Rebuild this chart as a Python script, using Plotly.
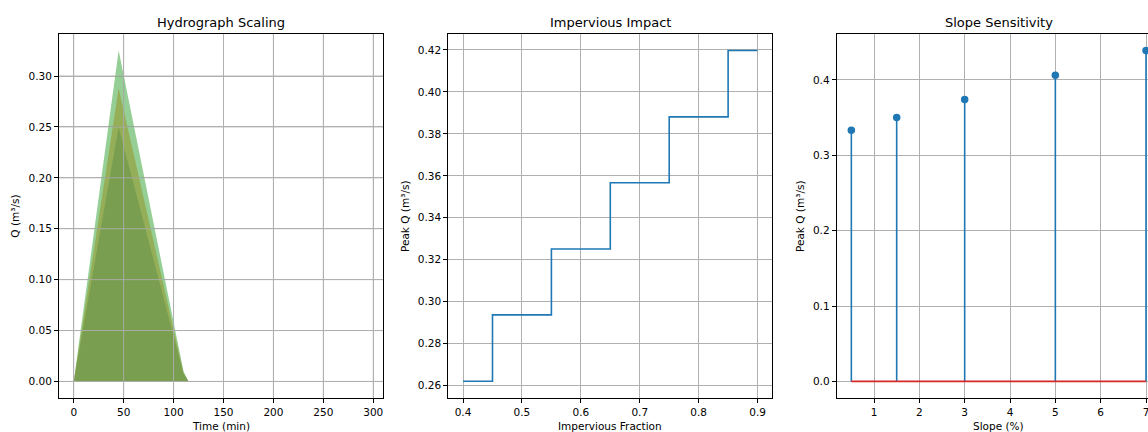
import plotly.graph_objects as go

# ---------------- data ----------------
# Panel 1: hydrograph scaling (time in minutes, discharge in m3/s)
t_min = [0, 45, 110, 115, 295]
q_small = [0.0, 0.250, 0.0075, 0.0, 0.0]
q_medium = [0.0, 0.288, 0.0086, 0.0, 0.0]
q_large = [0.0, 0.325, 0.0098, 0.0, 0.0]

# Panel 2: impervious fraction vs peak discharge
imp_frac = [0.4, 0.5, 0.6, 0.7, 0.8, 0.9]
imp_peak = [0.2621, 0.2937, 0.3251, 0.3567, 0.3881, 0.4197]

# Panel 3: slope vs peak discharge
slope_pct = [0.5, 1.5, 3, 5, 7]
slope_peak = [0.3334, 0.3502, 0.3740, 0.4062, 0.4390]

# tick values
x1_ticks = [0, 50, 100, 150, 200, 250, 300]
y1_ticks = [0.00, 0.05, 0.10, 0.15, 0.20, 0.25, 0.30]
x2_ticks = [0.4, 0.5, 0.6, 0.7, 0.8, 0.9]
y2_ticks = [0.26, 0.28, 0.30, 0.32, 0.34, 0.36, 0.38, 0.40, 0.42]
x3_ticks = [1, 2, 3, 4, 5, 6, 7]
y3_ticks = [0.0, 0.1, 0.2, 0.3, 0.4]

# ---------------- layout helpers ----------------
W, H = 1148, 432
FONT = "DejaVu Sans"
GRID = "#b0b0b0"


def fx(p):
    return p / W


def fy(p):
    return 1 - p / H


y_dom = [fy(398), fy(34)]

fig = go.Figure()

# Panel 1 fills
fill_cols = ["rgba(31,119,180,0.5)", "rgba(255,127,14,0.5)", "rgba(44,160,44,0.5)"]
for q, c in zip([q_small, q_medium, q_large], fill_cols):
    fig.add_trace(go.Scatter(x=t_min, y=q, mode="none", fill="tozeroy",
                             fillcolor=c, xaxis="x", yaxis="y",
                             hoverinfo="skip"))

# Panel 2 step line
fig.add_trace(go.Scatter(x=imp_frac, y=imp_peak, mode="lines",
                         line=dict(shape="hvh", color="#1f77b4", width=1.6),
                         xaxis="x2", yaxis="y2"))

# Panel 3 stems
stem_x, stem_y = [], []
for xv, yv in zip(slope_pct, slope_peak):
    stem_x += [xv, xv, None]
    stem_y += [0, yv, None]
fig.add_trace(go.Scatter(x=stem_x, y=stem_y, mode="lines",
                         line=dict(color="#1f77b4", width=1.6),
                         xaxis="x3", yaxis="y3"))
fig.add_trace(go.Scatter(x=[min(slope_pct), max(slope_pct)], y=[0, 0],
                         mode="lines", line=dict(color="#d62728", width=1.6),
                         xaxis="x3", yaxis="y3"))
fig.add_trace(go.Scatter(x=slope_pct, y=slope_peak, mode="markers",
                         marker=dict(color="#1f77b4", size=7.5),
                         xaxis="x3", yaxis="y3"))


def axis(domain, rng, ticks, fmt, anchor, mirror=True):
    return dict(domain=domain, range=rng, tickmode="array", tickvals=ticks,
                tickformat=fmt, anchor=anchor, showline=True, linecolor="black",
                linewidth=1, mirror=mirror, ticks="outside", ticklen=4,
                tickwidth=1, tickcolor="black", showgrid=True, gridcolor=GRID,
                gridwidth=0.9, zeroline=False, ticklabeloverflow="allow",
                tickfont=dict(family=FONT, size=10.5, color="black"))


fig.update_layout(
    width=W, height=H, margin=dict(l=0, r=0, t=0, b=0),
    paper_bgcolor="white", plot_bgcolor="white", showlegend=False,
    xaxis=axis([fx(59), fx(383)], [-14.75, 309.75], x1_ticks, "d", "y"),
    yaxis=axis(y_dom, [-0.01625, 0.34125], y1_ticks, ".2f", "x"),
    xaxis2=axis([fx(448.3), fx(772.3)], [0.375, 0.925], x2_ticks, ".1f", "y2"),
    yaxis2=axis(y_dom, [0.2541, 0.4276], y2_ticks, ".2f", "x2"),
    xaxis3=axis([fx(836.7), 1.0], [0.177, 7.044], x3_ticks, "d", "y3"),
    yaxis3=axis(y_dom, [-0.022, 0.461], y3_ticks, ".1f", "x3", mirror=False),
)

# Grid drawn above the translucent fills in panel 1 (as in the reference)
for v in x1_ticks:
    fig.add_shape(type="line", xref="x", yref="y domain", x0=v, x1=v, y0=0, y1=1,
                  line=dict(color=GRID, width=0.9), layer="above")
for v in y1_ticks:
    fig.add_shape(type="line", xref="x domain", yref="y", x0=0, x1=1, y0=v, y1=v,
                  line=dict(color=GRID, width=0.9), layer="above")

# Titles and axis labels
titles = [("Hydrograph Scaling", 221), ("Impervious Impact", 610.3),
          ("Slope Sensitivity", 998.7)]
for text, xc in titles:
    fig.add_annotation(text=text, x=fx(xc), y=fy(23), xref="paper", yref="paper",
                       showarrow=False, xanchor="center", yanchor="middle",
                       font=dict(family=FONT, size=13, color="black"))

xlabels = [("Time (min)", 221), ("Impervious Fraction", 610.3), ("Slope (%)", 998.7)]
for text, xc in xlabels:
    fig.add_annotation(text=text, x=fx(xc), y=fy(426), xref="paper", yref="paper",
                       showarrow=False, xanchor="center", yanchor="middle",
                       font=dict(family=FONT, size=10.5, color="black"))

ylabels = [("Q (m³/s)", 14.7), ("Peak Q (m³/s)", 405), ("Peak Q (m³/s)", 800)]
for text, xc in ylabels:
    fig.add_annotation(text=text, x=fx(xc), y=fy(216), xref="paper", yref="paper",
                       showarrow=False, xanchor="center", yanchor="middle",
                       textangle=-90,
                       font=dict(family=FONT, size=10.5, color="black"))

fig.write_html("out.html")
